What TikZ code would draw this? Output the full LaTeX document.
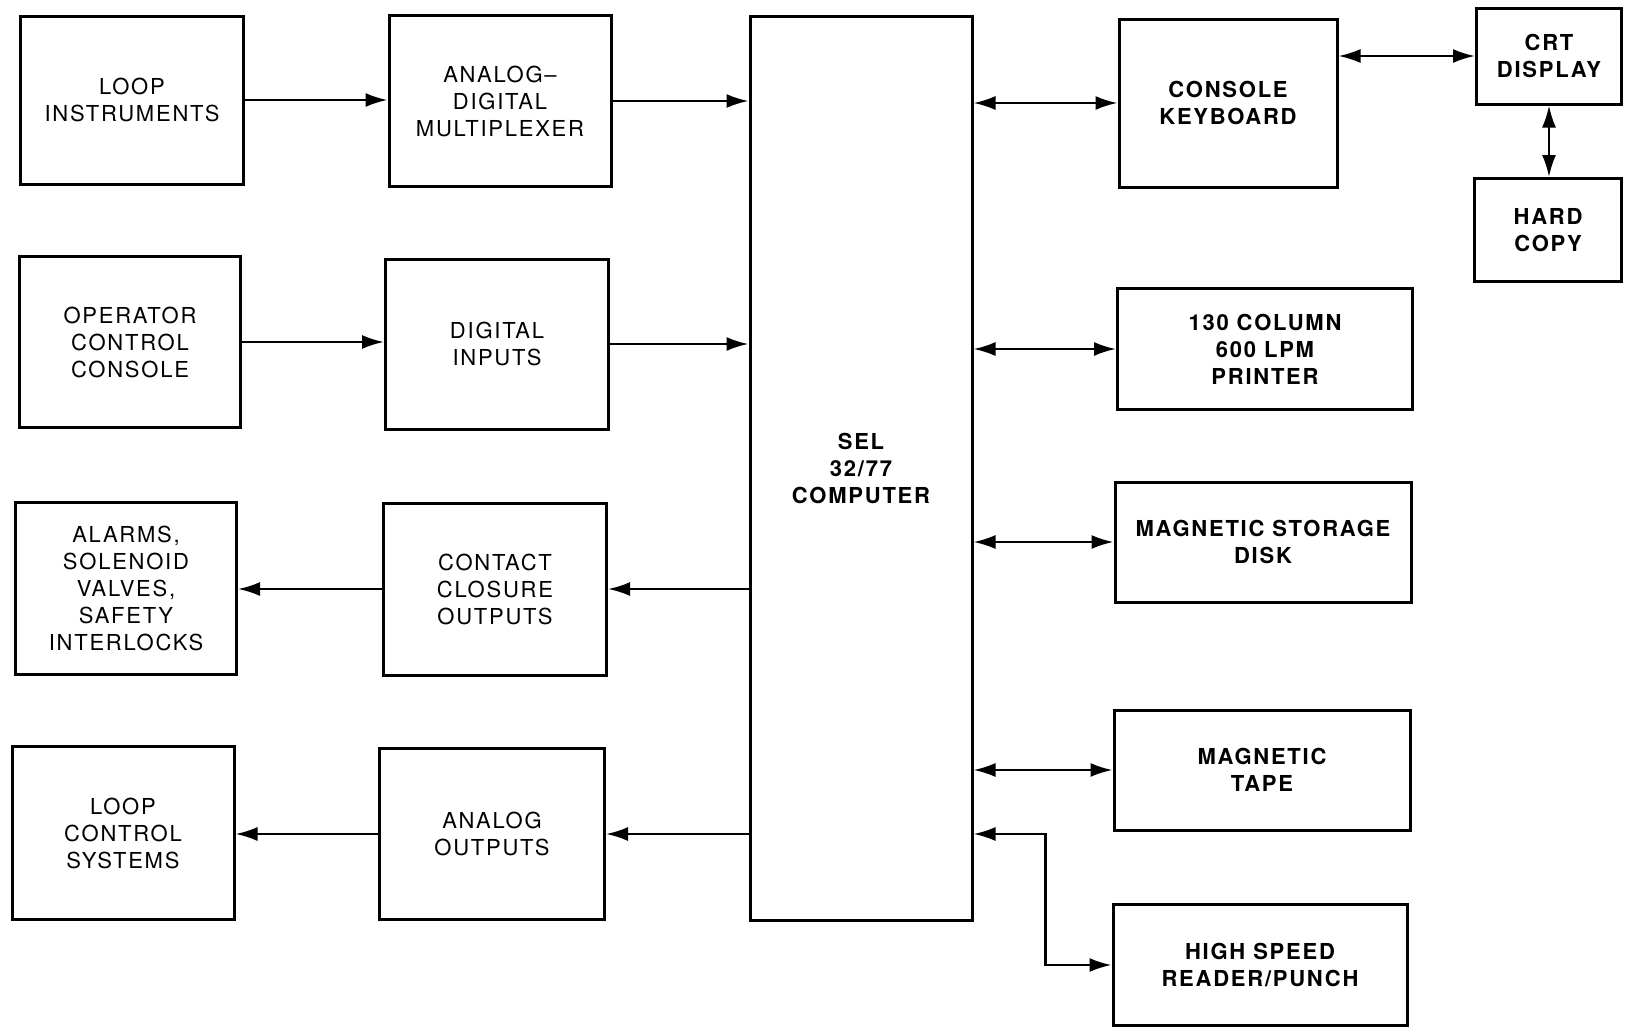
\documentclass[tikz,border=0pt]{standalone}
\usepackage{fontspec}
\setmainfont{TeX Gyre Heros}[LetterSpace=8]
\usetikzlibrary{arrows.meta, positioning}

\begin{document}
\begin{tikzpicture}[x=1pt, y=-1pt,
    blk/.style={draw, line width=3pt, align=center, inner sep=0pt,
        font=\fontsize{22}{27}\selectfont},
    hblk/.style={blk, font=\fontsize{22}{27}\selectfont\bfseries},
    flow/.style={-{Latex[length=22pt, width=14pt]}, line width=2.4pt},
    link/.style={{Latex[length=22pt, width=14pt]}-{Latex[length=22pt, width=14pt]}, line width=2.4pt},
]
\useasboundingbox (0,0) rectangle (1625,1028);

% --- inputs (left two columns) ---
\node[blk, minimum width=223pt, minimum height=168pt] (li)  at (132,100) {LOOP\\INSTRUMENTS};
\node[blk, minimum width=222pt, minimum height=171pt] (adm) at (500,101) {ANALOG--\\DIGITAL\\MULTIPLEXER};
\node[blk, minimum width=221pt, minimum height=171pt] (occ) at (130,342) {OPERATOR\\CONTROL\\CONSOLE};
\node[blk, minimum width=223pt, minimum height=170pt] (di)  at (497,344) {DIGITAL\\INPUTS};

% --- outputs ---
\node[blk, minimum width=221pt, minimum height=172pt] (al)  at (126,588) {ALARMS,\\SOLENOID\\VALVES,\\SAFETY\\INTERLOCKS};
\node[blk, minimum width=223pt, minimum height=172pt] (cco) at (495,589) {CONTACT\\CLOSURE\\OUTPUTS};
\node[blk, minimum width=222pt, minimum height=173pt] (lcs) at (123,833) {LOOP\\CONTROL\\SYSTEMS};
\node[blk, minimum width=225pt, minimum height=171pt] (ao)  at (492,834) {ANALOG\\OUTPUTS};

% the computer itself
\node[hblk, minimum width=222pt, minimum height=904pt] (comp) at (861,468) {SEL\\32/77\\COMPUTER};

% --- peripherals (right) ---
\node[hblk, minimum width=218pt, minimum height=168pt] (ck)  at (1228,103) {CONSOLE\\KEYBOARD};
\node[hblk, minimum width=145pt, minimum height=96pt]  (crt) at (1549,56)  {CRT\\DISPLAY};
\node[hblk, minimum width=147pt, minimum height=103pt] (hc)  at (1548,230) {HARD\\COPY};
\node[hblk, minimum width=295pt, minimum height=121pt] (prn) at (1265,349) {130 COLUMN\\600 LPM\\PRINTER};
\node[hblk, minimum width=296pt, minimum height=120pt] (msd) at (1263,542) {MAGNETIC STORAGE\\DISK};
\node[hblk, minimum width=296pt, minimum height=120pt] (mt)  at (1262,770) {MAGNETIC\\TAPE};
\node[hblk, minimum width=294pt, minimum height=121pt] (hs)  at (1260,965) {HIGH SPEED\\READER/PUNCH};

% data into the computer
\draw[flow] (li.east)  -- (adm.west |- li.east);
\draw[flow] (adm.east) -- (comp.west |- adm.east);
\draw[flow] (occ.east) -- (di.west |- occ.east);
\draw[flow] (di.east)  -- (comp.west |- di.east);

% data out of the computer
\draw[flow] (comp.west |- cco.east) -- (cco.east);
\draw[flow] (cco.west) -- (al.east |- cco.west);
\draw[flow] (comp.west |- ao.east) -- (ao.east);
\draw[flow] (ao.west)  -- (lcs.east |- ao.west);

% two-way links to the peripherals
\draw[link] (comp.east |- ck.west)  -- (ck.west);
\draw[link] (ck.east |- crt.west)   -- (crt.west);
\draw[link] (crt.south) -- (hc.north -| crt.south);
\draw[link] (comp.east |- prn.west) -- (prn.west);
\draw[link] (comp.east |- msd.west) -- (msd.west);
\draw[link] (comp.east |- mt.west)  -- (mt.west);
\draw[link] (hs.west) -- ++(-66,0) |- (comp.east |- ao.east);
\end{tikzpicture}
\end{document}
